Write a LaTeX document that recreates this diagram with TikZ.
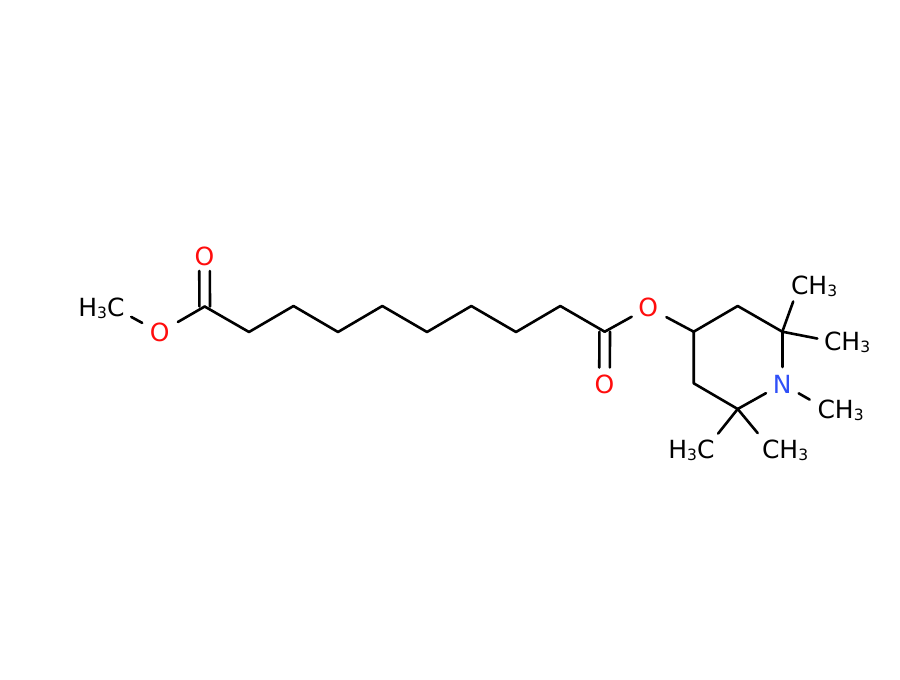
\documentclass[tikz,border=0pt]{standalone}
\usepackage{fontspec}
\setmainfont{DejaVu Sans}
\definecolor{oxy}{HTML}{FF0D0D}
\definecolor{nit}{HTML}{3050F8}
\newcommand{\sbthree}{\raisebox{-1.5pt}{\fontsize{15.5}{16}\selectfont 3}}
\tikzset{
  x=1pt,y=-1pt,
  bond/.style={line width=2.6pt,line cap=round,line join=round,black},
  atomlabel/.style={inner sep=0pt,outer sep=0pt,font=\fontsize{25}{29}\selectfont},
  oxylabel/.style={atomlabel,text=oxy,anchor=base},
  nitlabel/.style={atomlabel,text=nit,anchor=base},
  methyl/.style={atomlabel,text=black},
  sa/.style={shorten <=#1},
  sb/.style={shorten >=#1}
}
\begin{document}
\begin{tikzpicture}
\useasboundingbox (0,0) rectangle (900,680);
\fill[white] (0,0) rectangle (900,680);
% carbon skeleton
\coordinate (c1) at (204.7,306.5);
\coordinate (c2) at (249,332);
\coordinate (c3) at (293.5,306);
\coordinate (c4) at (338,332);
\coordinate (c5) at (382.3,306);
\coordinate (c6) at (427,332);
\coordinate (c7) at (471.3,306);
\coordinate (c8) at (516,332);
\coordinate (c9) at (560.3,306);
\coordinate (c10) at (604.7,331.7);
\coordinate (r1) at (693.7,331.7);
\coordinate (r2) at (737.7,306);
\coordinate (r3) at (782.3,331.7);
\coordinate (r5) at (737.7,409);
\coordinate (r6) at (693.7,383.3);
% heteroatoms
\node[oxylabel] (o1) at (204.5,265) {O};
\node[oxylabel] (o2) at (159.7,341.5) {O};
\node[oxylabel] (o3) at (604.5,393.5) {O};
\node[oxylabel] (o4) at (648.3,316.5) {O};
\node[nitlabel] (n1) at (782.3,393) {N};
\coordinate (ao1) at (204.5,256);
\coordinate (ao2) at (159.7,332.5);
\coordinate (ao3) at (604.5,384.5);
\coordinate (ao4) at (648.3,307.5);
\coordinate (an1) at (782.3,384);
% methyl labels
\node[methyl,anchor=base east] (me0) at (124.5,316.5) {H\sbthree C};
\node[methyl,anchor=base west] (me1) at (791,294.5) {CH\sbthree};
\node[methyl,anchor=base west] (me2) at (824,350.5) {CH\sbthree};
\node[methyl,anchor=base west] (me3) at (817.5,418.5) {CH\sbthree};
\node[methyl,anchor=base east] (me4) at (714.5,458.5) {H\sbthree C};
\node[methyl,anchor=base west] (me5) at (762,458.5) {CH\sbthree};
\coordinate (a0) at (115,308);
\coordinate (a1) at (799,285.5);
\coordinate (a2) at (835,342);
\coordinate (a3) at (826.7,409.3);
\coordinate (a4) at (705,450);
\coordinate (a5) at (771.7,450);
% chain
\draw[bond] (c1) -- (c2) -- (c3) -- (c4) -- (c5) -- (c6) -- (c7) -- (c8) -- (c9) -- (c10);
% ester, left
\draw[bond,sa=18.5,sb=20] (a0) -- (ao2);
\draw[bond,sa=21] (ao2) -- (c1);
\draw[bond,sb=15] ([xshift=-5.3]c1) -- ([xshift=-5.3]ao1);
\draw[bond,sb=15] ([xshift=5.3]c1) -- ([xshift=5.3]ao1);
% ester, right
\draw[bond,sb=17] ([xshift=-5.3]c10) -- ([xshift=-5.3]ao3);
\draw[bond,sb=17] ([xshift=5.3]c10) -- ([xshift=5.3]ao3);
\draw[bond,sb=19] (c10) -- (ao4);
\draw[bond,sa=20.5] (ao4) -- (r1);
% ring
\draw[bond] (r1) -- (r2) -- (r3);
\draw[bond,sb=17] (r3) -- (an1);
\draw[bond,sa=18.7] (an1) -- (r5);
\draw[bond] (r5) -- (r6) -- (r1);
% ring methyls
\draw[bond,sb=17] (r3) -- (a1);
\draw[bond,sb=18] (r3) -- (a2);
\draw[bond,sa=18.8,sb=19.6] (an1) -- (a3);
\draw[bond,sb=21] (r5) -- (a4);
\draw[bond,sb=22] (r5) -- (a5);
\end{tikzpicture}
\end{document}
